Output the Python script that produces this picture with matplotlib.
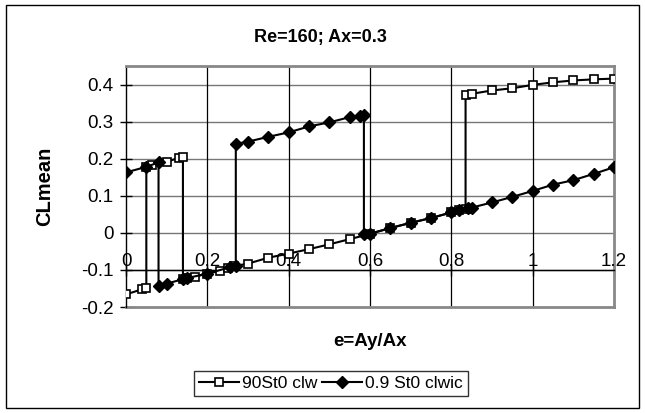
import matplotlib
matplotlib.use('Agg')
import matplotlib.pyplot as plt
from matplotlib.patches import Rectangle

plt.rcParams['font.family'] = ['Liberation Sans', 'DejaVu Sans']

# 90St0 clw  (sweep with jumps, open squares)
clw_e = [0, 0.04, 0.05, 0.05, 0.065, 0.1, 0.13, 0.14, 0.14, 0.15, 0.17, 0.2,
         0.23, 0.25, 0.265, 0.3, 0.35, 0.4, 0.45, 0.5, 0.55, 0.6, 0.65, 0.7,
         0.75, 0.8, 0.82, 0.835, 0.835, 0.85, 0.9, 0.95, 1.0, 1.05, 1.1, 1.15, 1.2]
clw_cl = [-0.166, -0.152, -0.150, 0.178, 0.184, 0.192, 0.202, 0.205, -0.125, -0.122,
          -0.118, -0.110, -0.103, -0.095, -0.090, -0.083, -0.067, -0.056, -0.044,
          -0.031, -0.017, -0.003, 0.013, 0.027, 0.040, 0.055, 0.061, 0.065, 0.372,
          0.375, 0.384, 0.390, 0.399, 0.406, 0.411, 0.414, 0.416]

# 0.9 St0 clwic  (filled diamonds)
clwic_e = [0, 0.05, 0.08, 0.08, 0.1, 0.14, 0.15, 0.2, 0.255, 0.27, 0.27, 0.3, 0.35,
           0.4, 0.45, 0.5, 0.55, 0.575, 0.585, 0.585, 0.6, 0.65, 0.7, 0.75, 0.8,
           0.82, 0.84, 0.85, 0.9, 0.95, 1.0, 1.05, 1.1, 1.15, 1.2]
clwic_cl = [0.163, 0.178, 0.190, -0.143, -0.137, -0.125, -0.122, -0.110, -0.093,
            -0.089, 0.240, 0.246, 0.259, 0.271, 0.287, 0.298, 0.312, 0.316, 0.319,
            -0.004, -0.002, 0.013, 0.027, 0.040, 0.055, 0.061, 0.066, 0.068, 0.082,
            0.097, 0.113, 0.130, 0.142, 0.159, 0.177]

xticks = [0, 0.2, 0.4, 0.6, 0.8, 1.0, 1.2]
xtick_labels = ['0', '0.2', '0.4', '0.6', '0.8', '1', '1.2']
yticks = [-0.2, -0.1, 0, 0.1, 0.2, 0.3, 0.4]
ytick_labels = ['-0.2', '-0.1', '0', '0.1', '0.2', '0.3', '0.4']

fig = plt.figure(figsize=(6.45, 4.13), dpi=100)
ax = fig.add_axes([126 / 645, (413 - 307) / 413, 488 / 645, 241 / 413])

ax.plot(clw_e, clw_cl, color='black', lw=1.5, marker='s', ms=5.5,
        mfc='white', mec='black', mew=1.2, label='90St0 clw', zorder=3)
ax.plot(clwic_e, clwic_cl, color='black', lw=1.5, marker='D', ms=6,
        mfc='black', mec='black', label='0.9 St0 clwic', zorder=4)

ax.set_xlim(0, 1.2)
ax.set_ylim(-0.2, 0.45)

# gridlines
for y in yticks[1:]:
    ax.axhline(y, color='#777777', lw=1, zorder=1)
for x in xticks[1:-1]:
    ax.axvline(x, color='black', lw=0.9, zorder=1)

# plot area border
for side in ['top', 'right']:
    ax.spines[side].set_color('#888888')
    ax.spines[side].set_linewidth(2)
ax.spines['left'].set_color('black')
ax.spines['left'].set_linewidth(1)
ax.spines['bottom'].set_position(('data', -0.1))
ax.spines['bottom'].set_color('black')
ax.spines['bottom'].set_linewidth(1)
ax.axhline(-0.2, color='#888888', lw=2, zorder=2, clip_on=False)

ax.set_yticks(yticks)
ax.set_yticklabels(ytick_labels)
ax.set_xticks(xticks)
ax.set_xticklabels([])
ax.tick_params(axis='y', direction='inout', length=8, width=1, labelsize=13.5, pad=5)
ax.tick_params(axis='x', direction='inout', length=8, width=1)

# category labels sit just above the axis line
for x, lab in zip(xticks, xtick_labels):
    ax.text(x, -0.1, lab, ha='center', va='bottom', fontsize=13.5,
            transform=ax.transData, zorder=5)

fig.text(0.497, 0.908, 'Re=160; Ax=0.3', ha='center', va='center',
         fontsize=13, fontweight='bold')
fig.text(0.574, 0.172, 'e=Ay/Ax', ha='center', va='center',
         fontsize=13.5, fontweight='bold')
fig.text(0.069, 0.549, 'CLmean', ha='center', va='center', rotation=90,
         fontsize=14.5, fontweight='bold')

leg = fig.legend(loc='center', bbox_to_anchor=(0.513, 0.071), ncol=2,
                 fontsize=12.5, frameon=True, fancybox=False, handlelength=2.3,
                 handletextpad=0.15, columnspacing=0.3, borderpad=0.3,
                 borderaxespad=0)
leg.get_frame().set_edgecolor('black')
leg.get_frame().set_linewidth(1)

# chart border
fig.patches.append(Rectangle((6 / 645, 5 / 413), 633 / 645, 403 / 413,
                             transform=fig.transFigure, fill=False,
                             edgecolor='black', lw=1))

plt.savefig('out.png', dpi=100)
